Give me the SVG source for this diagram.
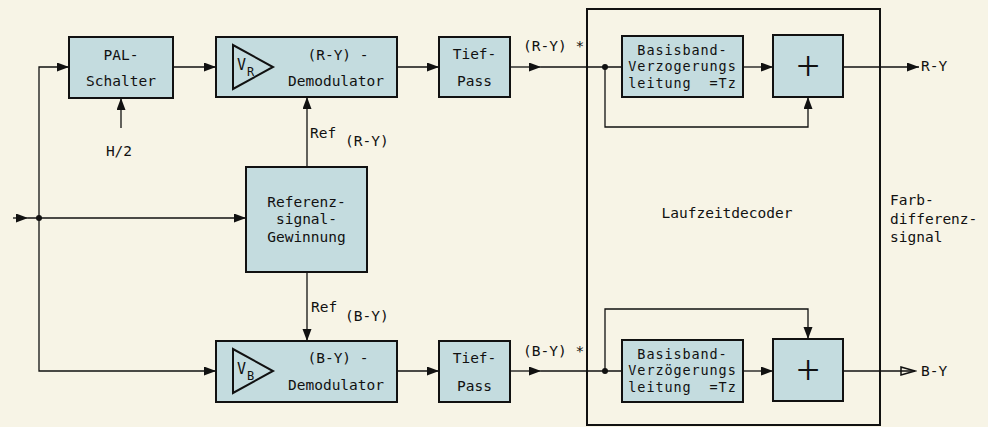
<svg xmlns="http://www.w3.org/2000/svg" width="988" height="427" viewBox="0 0 988 427">
<defs>
<style>
.bg{fill:#f7f4e6}
.box{fill:#c4dcdf;stroke:#111;stroke-width:2}
.frame{fill:none;stroke:#111;stroke-width:2}
.ln{fill:none;stroke:#111;stroke-width:1.3}
.tri{fill:none;stroke:#111;stroke-width:2;stroke-linejoin:miter}
text{font-family:"DejaVu Sans Mono","Liberation Mono",monospace;font-size:14.5px;fill:#111}
.c{text-anchor:middle}
.bb{font-size:13.5px;letter-spacing:0.9px}
.plus{font-family:"Liberation Serif","Times New Roman",serif;font-size:42px;text-anchor:middle}
</style>
<marker id="ar" markerUnits="userSpaceOnUse" markerWidth="13" markerHeight="10" refX="12" refY="4.5" orient="auto">
<path d="M0,0 L12,4.5 L0,9 z" fill="#111"/>
</marker>
<marker id="aro" markerUnits="userSpaceOnUse" markerWidth="17" markerHeight="11" refX="15" refY="5" orient="auto">
<path d="M1,1 L15,5 L1,9 z" fill="none" stroke="#111" stroke-width="1.5"/>
</marker>
</defs>
<rect class="bg" x="0" y="0" width="988" height="427"/>

<g id="laufzeitdecoder">
<rect class="frame" x="587" y="9" width="293" height="416"/>
<text x="727" y="218" class="c">Laufzeitdecoder</text>
</g>

<g id="connectors">
<path class="ln" d="M13,218 H28" marker-end="url(#ar)"/>
<path class="ln" d="M28,218 H246" marker-end="url(#ar)"/>
<path class="ln" d="M39,218 V67 H69" marker-end="url(#ar)"/>
<path class="ln" d="M39,218 V371 H216" marker-end="url(#ar)"/>
<circle cx="39" cy="218" r="3" fill="#111"/>
<path class="ln" d="M173,67 H216" marker-end="url(#ar)"/>
<path class="ln" d="M121,128 V98" marker-end="url(#ar)"/>
<path class="ln" d="M307,167 V97" marker-end="url(#ar)"/>
<path class="ln" d="M307,272 V341" marker-end="url(#ar)"/>
<path class="ln" d="M397,67 H439" marker-end="url(#ar)"/>
<path class="ln" d="M397,371 H439" marker-end="url(#ar)"/>
<path class="ln" d="M510,67 H541" marker-end="url(#ar)"/>
<path class="ln" d="M541,67 H622"/>
<path class="ln" d="M510,371 H541" marker-end="url(#ar)"/>
<path class="ln" d="M541,371 H622"/>
<circle cx="605" cy="67" r="3" fill="#111"/>
<circle cx="605" cy="371" r="3" fill="#111"/>
<path class="ln" d="M605,67 V127 H808 V97" marker-end="url(#ar)"/>
<path class="ln" d="M605,371 V309 H808 V339" marker-end="url(#ar)"/>
<path class="ln" d="M743,67 H773" marker-end="url(#ar)"/>
<path class="ln" d="M743,371 H773" marker-end="url(#ar)"/>
<path class="ln" d="M843,67 H919" marker-end="url(#ar)"/>
<path class="ln" d="M843,371 H915" marker-end="url(#aro)"/>
<text x="310" y="138">Ref</text>
<text x="345" y="146">(R-Y)</text>
<text x="311" y="312">Ref</text>
<text x="345" y="321">(B-Y)</text>
<text x="523" y="51">(R-Y) *</text>
<text x="523" y="356">(B-Y) *</text>
<text x="119" y="156" class="c">H/2</text>
<text x="921" y="71">R-Y</text>
<text x="921" y="376">B-Y</text>
</g>

<g id="pal-schalter">
<rect class="box" x="69" y="37" width="104" height="61"/>
<text x="121" y="60" class="c">PAL-</text>
<text x="121" y="86" class="c">Schalter</text>
</g>

<g id="demod-ry">
<rect class="box" x="216" y="37" width="181" height="60"/>
<path class="tri" d="M233,45 L233,89 L273,67 z"/>
<text x="237" y="70" style="font-size:15px">V</text>
<text x="247" y="76" style="font-size:12px">R</text>
<text x="338" y="60" class="c">(R-Y) -</text>
<text x="336" y="86" class="c">Demodulator</text>
</g>

<g id="demod-by">
<rect class="box" x="216" y="341" width="181" height="61"/>
<path class="tri" d="M233,349 L233,393 L273,371 z"/>
<text x="237" y="374" style="font-size:15px">V</text>
<text x="247" y="380" style="font-size:12px">B</text>
<text x="338" y="363" class="c">(B-Y) -</text>
<text x="336" y="390" class="c">Demodulator</text>
</g>

<g id="referenz">
<rect class="box" x="246" y="167" width="121" height="105"/>
<text x="306.5" y="207" class="c">Referenz-</text>
<text x="306.5" y="224" class="c">signal-</text>
<text x="306.5" y="242" class="c">Gewinnung</text>
</g>

<g id="tiefpass-ry">
<rect class="box" x="439" y="37" width="71" height="60"/>
<text x="474.5" y="59" class="c">Tief-</text>
<text x="474.5" y="86" class="c">Pass</text>
</g>

<g id="tiefpass-by">
<rect class="box" x="439" y="341" width="71" height="61"/>
<text x="474.5" y="363" class="c">Tief-</text>
<text x="474.5" y="391" class="c">Pass</text>
</g>

<g id="basisband-ry">
<rect class="box" x="622" y="36" width="121" height="61"/>
<text x="682.5" y="54.5" class="c bb">Basisband-</text>
<text x="682.5" y="71" class="c bb">Verzogerungs</text>
<text x="682.5" y="87.5" class="c bb" xml:space="preserve">leitung  =Tz</text>
</g>

<g id="basisband-by">
<rect class="box" x="622" y="340" width="121" height="62"/>
<text x="682.5" y="358.5" class="c bb">Basisband-</text>
<text x="682.5" y="375" class="c bb">Verzögerungs</text>
<text x="682.5" y="391.5" class="c bb" xml:space="preserve">leitung  =Tz</text>
</g>

<g id="sum-ry">
<rect class="box" x="773" y="35" width="70" height="62"/>
<text x="808" y="80" class="plus">+</text>
</g>

<g id="sum-by">
<rect class="box" x="773" y="339" width="70" height="62"/>
<text x="808" y="384" class="plus">+</text>
</g>

<g id="farbdifferenzsignal">
<text x="890" y="205">Farb-</text>
<text x="890" y="224">differenz-</text>
<text x="890" y="242">signal</text>
</g>
</svg>
